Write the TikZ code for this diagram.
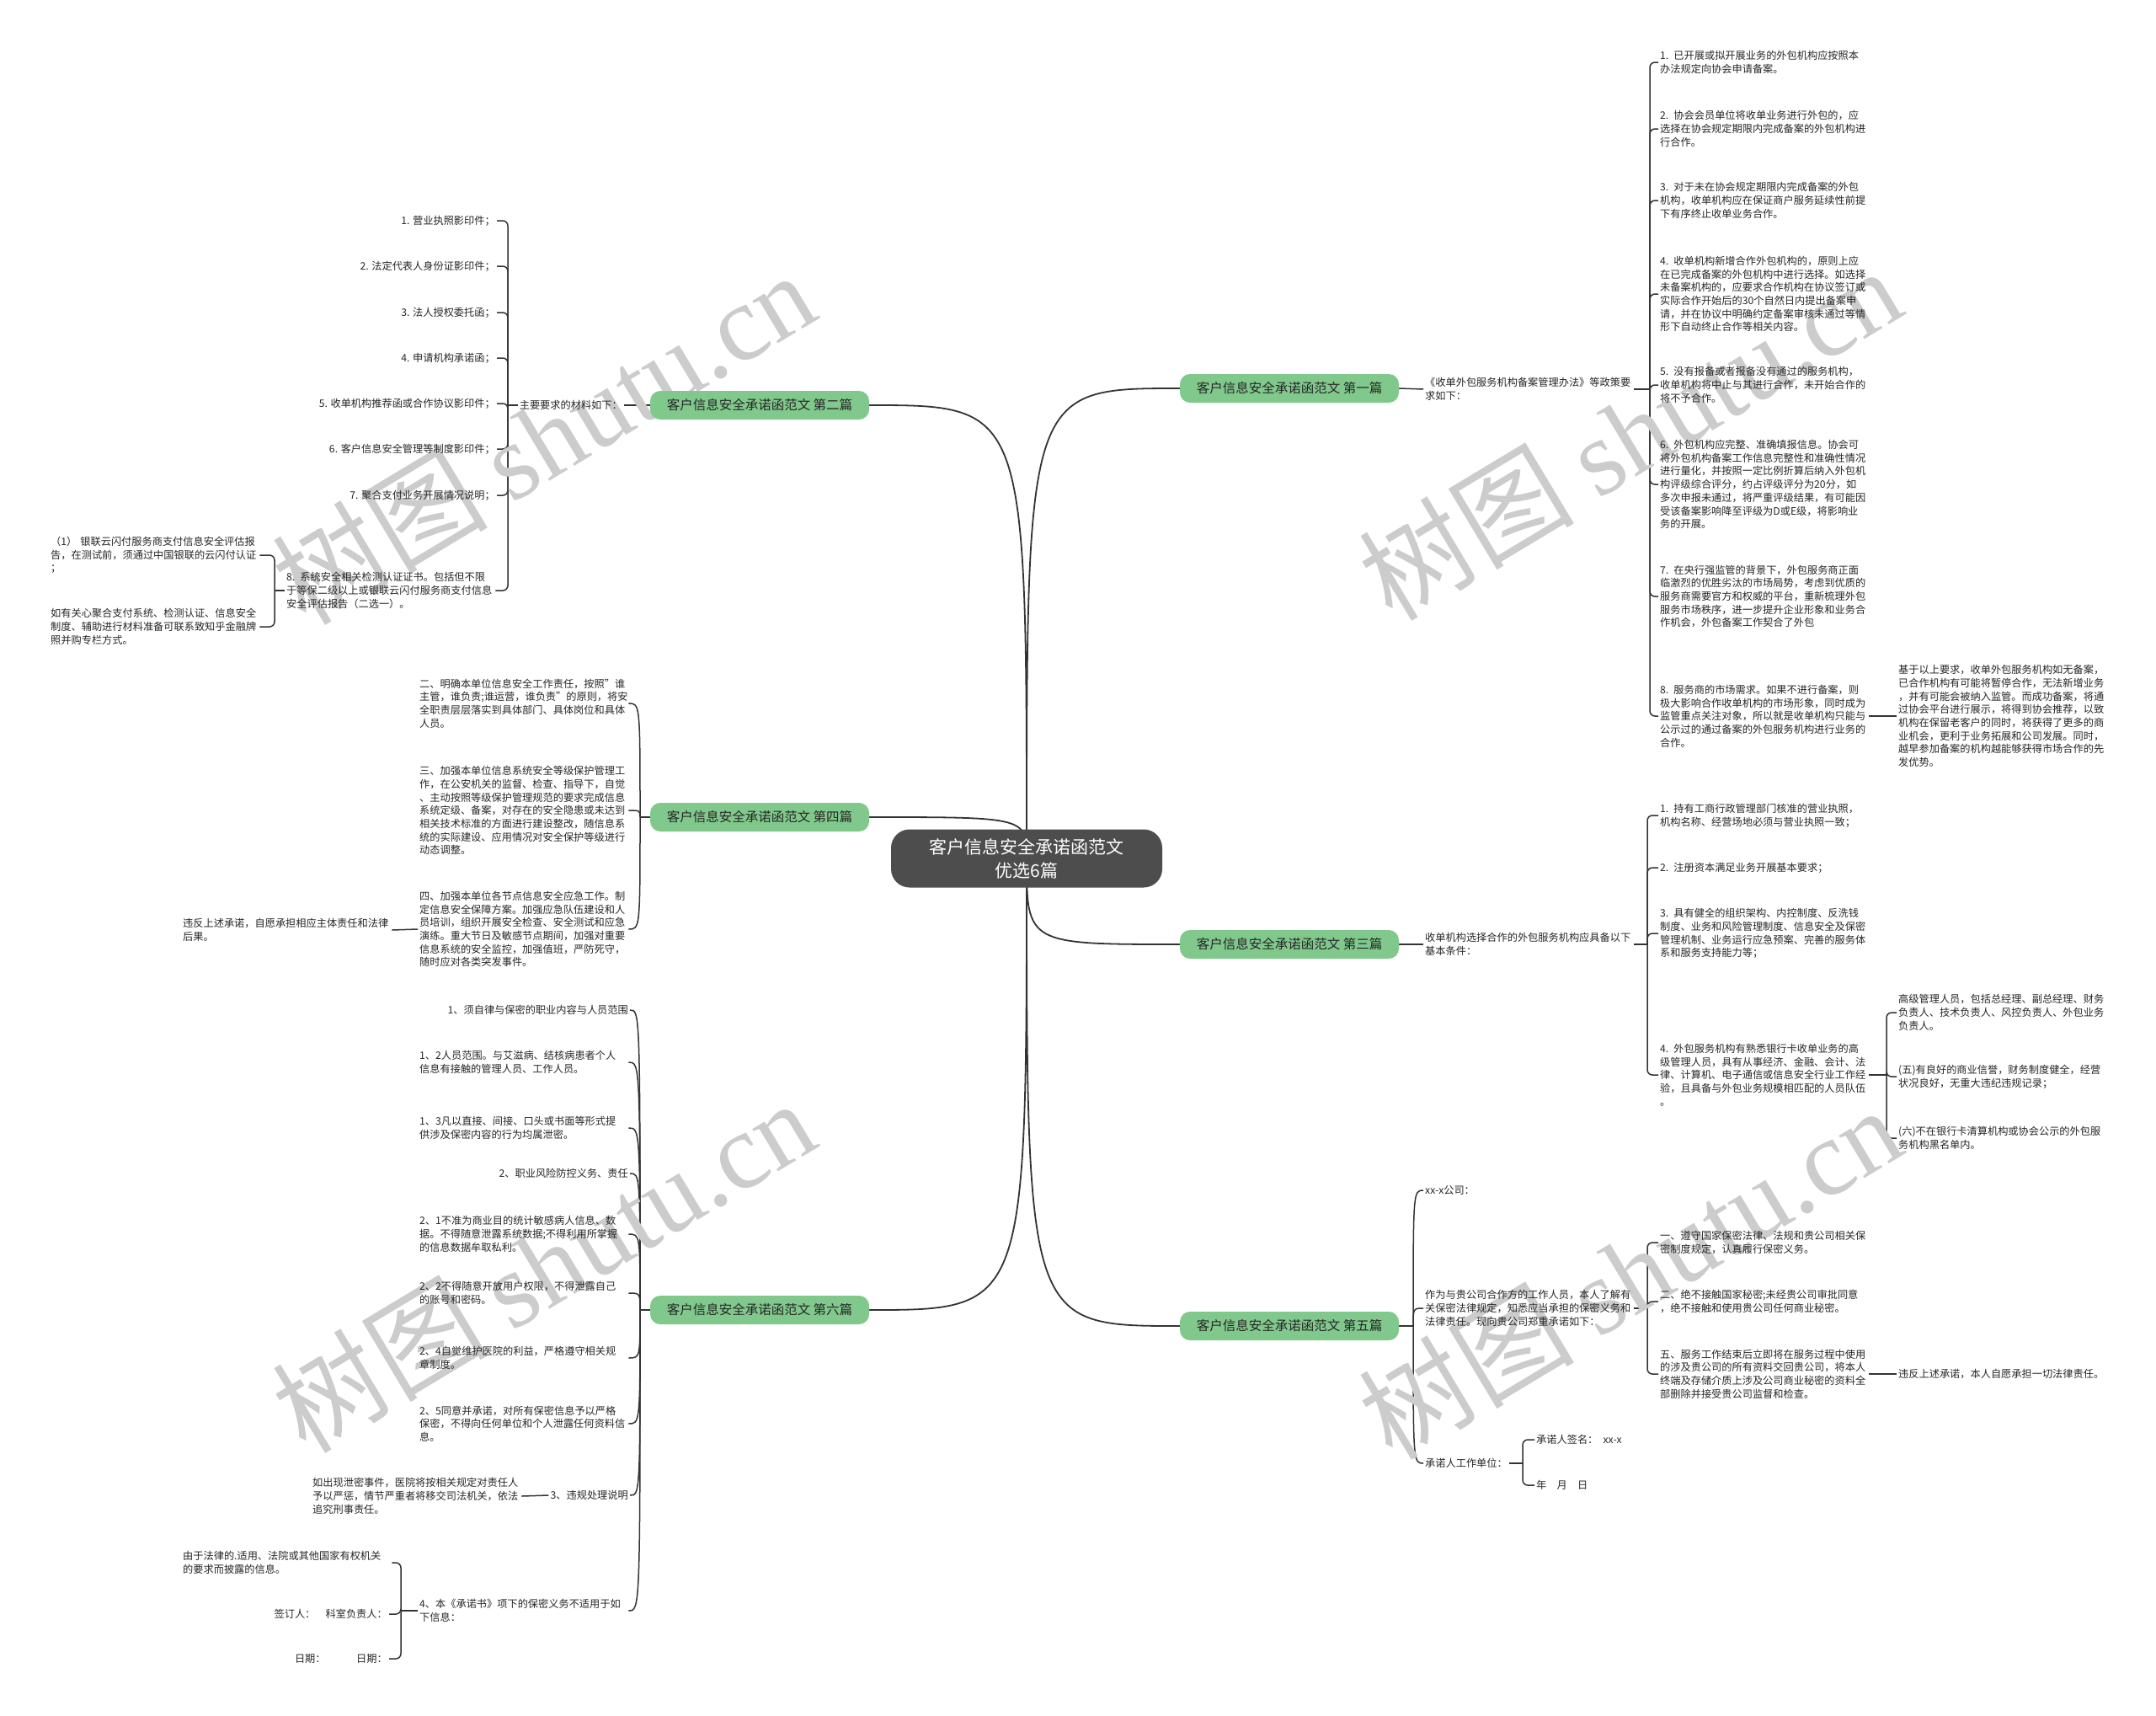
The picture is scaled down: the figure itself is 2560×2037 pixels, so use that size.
\documentclass[tikz,border=0pt]{standalone}
\usepackage{fontspec}
\setmainfont{Noto Sans CJK SC}
\newfontfamily\wmfont{Liberation Serif}
\usetikzlibrary{backgrounds}
\definecolor{topicgreen}{RGB}{128,200,140}
\definecolor{hubgray}{RGB}{77,77,77}
\definecolor{linkgray}{RGB}{51,51,51}
\tikzset{
	hub/.style={fill=hubgray, text=white, rounded corners=22pt, align=center, minimum width=322pt, minimum height=69pt, font=\fontsize{21}{28}\selectfont},
	topic/.style={fill=topicgreen, text=black!85, rounded corners=12pt, minimum width=260pt, minimum height=34pt, font=\fontsize{15.5}{18}\selectfont},
	leaf/.style={align=left, text width=246pt, inner sep=2pt, text=black!85, font=\fontsize{12.2}{15.7}\selectfont},
	tag/.style={inner sep=2pt, text=black!85, font=\fontsize{12.2}{15.7}\selectfont},
	link/.style={draw=linkgray, line width=1.5pt},
	trunk/.style={draw=linkgray, line width=1.8pt},
	brace/.style={link, rounded corners=6pt},
	wmark/.style={rotate=31, text=black!20, font=\fontsize{128}{130}\selectfont}
}
\begin{document}
\begin{tikzpicture}[x=1pt, y=-1pt]
	\useasboundingbox (0,0) rectangle (2560,2037);
	% watermarks
	\node[wmark] (wmA) at (645,519) {树图\ {\wmfont shutu.cn}};
	\node[wmark] (wmB) at (1935,514) {树图\ {\wmfont shutu.cn}};
	\node[wmark] (wmC) at (645,1502) {树图\ {\wmfont shutu.cn}};
	\node[wmark] (wmD) at (1935,1510) {树图\ {\wmfont shutu.cn}};
	% root and topics
	\node[hub] (root) at (1219,1019) {客户信息安全承诺函范文\\优选6篇};
	\node[topic] (second) at (902,481) {客户信息安全承诺函范文 第二篇};
	\node[topic] (fourth) at (902,970) {客户信息安全承诺函范文 第四篇};
	\node[topic] (sixth) at (902,1555) {客户信息安全承诺函范文 第六篇};
	\node[topic] (first) at (1531,461) {客户信息安全承诺函范文 第一篇};
	\node[topic] (third) at (1531,1121) {客户信息安全承诺函范文 第三篇};
	\node[topic] (fifth) at (1531,1574) {客户信息安全承诺函范文 第五篇};
	% first
	\node[leaf, anchor=west] (policy) at (1690,462) {《收单外包服务机构备案管理办法》等政策要\\求如下：};
	\coordinate (pj) at (1959,462);
	\node[leaf, anchor=west] (filing1) at (1969,74) {1. 已开展或拟开展业务的外包机构应按照本\\办法规定向协会申请备案。};
	\node[leaf, anchor=west] (filing2) at (1969,153) {2. 协会会员单位将收单业务进行外包的，应\\选择在协会规定期限内完成备案的外包机构进\\行合作。};
	\node[leaf, anchor=west] (filing3) at (1969,238) {3. 对于未在协会规定期限内完成备案的外包\\机构，收单机构应在保证商户服务延续性前提\\下有序终止收单业务合作。};
	\node[leaf, anchor=west] (filing4) at (1969,349) {4. 收单机构新增合作外包机构的，原则上应\\在已完成备案的外包机构中进行选择。如选择\\未备案机构的，应要求合作机构在协议签订或\\实际合作开始后的30个自然日内提出备案申\\请，并在协议中明确约定备案审核未通过等情\\形下自动终止合作等相关内容。};
	\node[leaf, anchor=west] (filing5) at (1969,457) {5. 没有报备或者报备没有通过的服务机构，\\收单机构将中止与其进行合作，未开始合作的\\将不予合作。};
	\node[leaf, anchor=west] (filing6) at (1969,575) {6. 外包机构应完整、准确填报信息。协会可\\将外包机构备案工作信息完整性和准确性情况\\进行量化，并按照一定比例折算后纳入外包机\\构评级综合评分，约占评级评分为20分，如\\多次申报未通过，将严重评级结果，有可能因\\受该备案影响降至评级为D或E级，将影响业\\务的开展。};
	\node[leaf, anchor=west] (filing7) at (1969,708) {7. 在央行强监管的背景下，外包服务商正面\\临激烈的优胜劣汰的市场局势，考虑到优质的\\服务商需要官方和权威的平台，重新梳理外包\\服务市场秩序，进一步提升企业形象和业务合\\作机会，外包备案工作契合了外包};
	\node[leaf, anchor=west] (filing8) at (1969,850) {8. 服务商的市场需求。如果不进行备案，则\\极大影响合作收单机构的市场形象，同时成为\\监管重点关注对象，所以就是收单机构只能与\\公示过的通过备案的外包服务机构进行业务的\\合作。};
	\node[leaf, anchor=west] (benefit) at (2252,850) {基于以上要求，收单外包服务机构如无备案，\\已合作机构有可能将暂停合作，无法新增业务\\，并有可能会被纳入监管。而成功备案，将通\\过协会平台进行展示，将得到协会推荐，以致\\机构在保留老客户的同时，将获得了更多的商\\业机会，更利于业务拓展和公司发展。同时，\\越早参加备案的机构越能够获得市场合作的先\\发优势。};
	% third
	\node[leaf, anchor=west] (criteria) at (1690,1121) {收单机构选择合作的外包服务机构应具备以下\\基本条件：};
	\coordinate (cj) at (1956,1121);
	\node[leaf, anchor=west] (cond1) at (1969,968) {1. 持有工商行政管理部门核准的营业执照，\\机构名称、经营场地必须与营业执照一致；};
	\node[leaf, anchor=west] (cond2) at (1969,1030) {2. 注册资本满足业务开展基本要求；};
	\node[leaf, anchor=west] (cond3) at (1969,1108) {3. 具有健全的组织架构、内控制度、反洗钱\\制度、业务和风险管理制度、信息安全及保密\\管理机制、业务运行应急预案、完善的服务体\\系和服务支持能力等；};
	\node[leaf, anchor=west] (cond4) at (1969,1276) {4. 外包服务机构有熟悉银行卡收单业务的高\\级管理人员，具有从事经济、金融、会计、法\\律、计算机、电子通信或信息安全行业工作经\\验，且具备与外包业务规模相匹配的人员队伍\\。};
	\coordinate (sj) at (2240,1276);
	\node[leaf, anchor=west] (staff) at (2252,1202) {高级管理人员，包括总经理、副总经理、财务\\负责人、技术负责人、风控负责人、外包业务\\负责人。};
	\node[leaf, anchor=west] (credit) at (2252,1278) {(五)有良好的商业信誉，财务制度健全，经营\\状况良好，无重大违纪违规记录；};
	\node[leaf, anchor=west] (blacklist) at (2252,1351) {(六)不在银行卡清算机构或协会公示的外包服\\务机构黑名单内。};
	% fifth
	\coordinate (fj) at (1678,1574);
	\node[tag, anchor=west] (company) at (1690,1413) {xx-x公司：};
	\node[leaf, anchor=west] (pledge) at (1690,1553) {作为与贵公司合作方的工作人员，本人了解有\\关保密法律规定，知悉应当承担的保密义务和\\法律责任。现向贵公司郑重承诺如下：};
	\node[tag, anchor=west] (unit) at (1690,1737) {承诺人工作单位：};
	\coordinate (kj) at (1956,1553);
	\node[leaf, anchor=west] (keep1) at (1969,1475) {一、遵守国家保密法律、法规和贵公司相关保\\密制度规定，认真履行保密义务。};
	\node[leaf, anchor=west] (keep2) at (1969,1545) {二、绝不接触国家秘密;未经贵公司审批同意\\，绝不接触和使用贵公司任何商业秘密。};
	\node[leaf, anchor=west] (keep5) at (1969,1631) {五、服务工作结束后立即将在服务过程中使用\\的涉及贵公司的所有资料交回贵公司，将本人\\终端及存储介质上涉及公司商业秘密的资料全\\部删除并接受贵公司监督和检查。};
	\node[tag, anchor=west] (breach) at (2252,1631) {违反上述承诺，本人自愿承担一切法律责任。};
	\coordinate (uj) at (1808,1737);
	\node[tag, anchor=west] (signer) at (1822,1709) {承诺人签名：\enspace xx-x};
	\node[tag, anchor=west] (date) at (1822,1763) {年\quad 月\quad 日};
	% second
	\node[tag, anchor=east] (materials) at (741,481) {主要要求的材料如下：};
	\coordinate (mj) at (603,481);
	\node[tag, anchor=east] (mat1) at (590,262) {1. 营业执照影印件；};
	\node[tag, anchor=east] (mat2) at (590,316) {2. 法定代表人身份证影印件；};
	\node[tag, anchor=east] (mat3) at (590,371) {3. 法人授权委托函；};
	\node[tag, anchor=east] (mat4) at (590,425) {4. 申请机构承诺函；};
	\node[tag, anchor=east] (mat5) at (590,479) {5. 收单机构推荐函或合作协议影印件；};
	\node[tag, anchor=east] (mat6) at (590,533) {6. 客户信息安全管理等制度影印件；};
	\node[tag, anchor=east] (mat7) at (590,588) {7. 聚合支付业务开展情况说明；};
	\node[leaf, anchor=west] (mat8) at (338,701) {8. 系统安全相关检测认证证书。包括但不限\\于等保二级以上或银联云闪付服务商支付信息\\安全评估报告（二选一）。};
	\coordinate (bj) at (326,701);
	\node[leaf, anchor=west] (unionpay) at (58,659) {（1） 银联云闪付服务商支付信息安全评估报\\告，在测试前，须通过中国银联的云闪付认证\\；};
	\node[leaf, anchor=west] (contact) at (58,744) {如有关心聚合支付系统、检测认证、信息安全\\制度、辅助进行材料准备可联系致知乎金融牌\\照并购专栏方式。};
	% fourth
	\coordinate (dj) at (760,970);
	\node[leaf, anchor=west] (duty2) at (496,835) {二、明确本单位信息安全工作责任，按照"谁\\主管，谁负责;谁运营，谁负责"的原则，将安\\全职责层层落实到具体部门、具体岗位和具体\\人员。};
	\node[leaf, anchor=west] (duty3) at (496,962) {三、加强本单位信息系统安全等级保护管理工\\作，在公安机关的监督、检查、指导下，自觉\\、主动按照等级保护管理规范的要求完成信息\\系统定级、备案，对存在的安全隐患或未达到\\相关技术标准的方面进行建设整改，随信息系\\统的实际建设、应用情况对安全保护等级进行\\动态调整。};
	\node[leaf, anchor=west] (duty4) at (496,1103) {四、加强本单位各节点信息安全应急工作。制\\定信息安全保障方案。加强应急队伍建设和人\\员培训，组织开展安全检查、安全测试和应急\\演练。重大节日及敏感节点期间，加强对重要\\信息系统的安全监控，加强值班，严防死守，\\随时应对各类突发事件。};
	\node[leaf, anchor=west] (liability) at (215,1104) {违反上述承诺，自愿承担相应主体责任和法律\\后果。};
	% sixth
	\coordinate (xj) at (760,1555);
	\node[tag, anchor=east] (scope) at (748,1199) {1、须自律与保密的职业内容与人员范围};
	\node[leaf, anchor=west] (scope2) at (496,1261) {1、2人员范围。与艾滋病、结核病患者个人\\信息有接触的管理人员、工作人员。};
	\node[leaf, anchor=west] (scope3) at (496,1339) {1、3凡以直接、间接、口头或书面等形式提\\供涉及保密内容的行为均属泄密。};
	\node[tag, anchor=east] (risk) at (748,1393) {2、职业风险防控义务、责任};
	\node[leaf, anchor=west] (risk1) at (496,1465) {2、1不准为商业目的统计敏感病人信息、数\\据。不得随意泄露系统数据;不得利用所掌握\\的信息数据牟取私利。};
	\node[leaf, anchor=west] (risk2) at (496,1535) {2、2不得随意开放用户权限，不得泄露自己\\的账号和密码。};
	\node[leaf, anchor=west] (risk4) at (496,1612) {2、4自觉维护医院的利益，严格遵守相关规\\章制度。};
	\node[leaf, anchor=west] (risk5) at (496,1690) {2、5同意并承诺，对所有保密信息予以严格\\保密，不得向任何单位和个人泄露任何资料信\\息。};
	\node[tag, anchor=east] (penalty) at (748,1775) {3、违规处理说明};
	\node[leaf, anchor=west] (leak) at (369,1776) {如出现泄密事件，医院将按相关规定对责任人\\予以严惩，情节严重者将移交司法机关，依法\\追究刑事责任。};
	\node[leaf, anchor=west] (exempt) at (496,1912) {4、本《承诺书》项下的保密义务不适用于如\\下信息：};
	\coordinate (ej) at (476,1912);
	\node[leaf, anchor=west] (lawinfo) at (215,1855) {由于法律的.适用、法院或其他国家有权机关\\的要求而披露的信息。};
	\node[tag, anchor=east] (signoff) at (462,1916) {签订人：\quad 科室负责人：};
	\node[tag, anchor=east] (dates) at (462,1969) {日期：\qquad\quad 日期：};
	% connectors
	\begin{scope}[on background layer]
		\fill[white] (0,0) rectangle (2560,2037);
		\draw[trunk] (root.center) .. controls (root.center |- first.west) .. (first.west);
		\draw[trunk] (root.center) .. controls (root.center |- third.west) .. (third.west);
		\draw[trunk] (root.center) .. controls (root.center |- fifth.west) .. (fifth.west);
		\draw[trunk] (root.center) .. controls (root.center |- second.east) .. (second.east);
		\draw[trunk] (root.center) .. controls (root.center |- fourth.east) .. (fourth.east);
		\draw[trunk] (root.center) .. controls (root.center |- sixth.east) .. (sixth.east);
		% first
		\draw[link] (first.east) -- (policy.west);
		\draw[link] (policy.east) -- (pj);
		\draw[brace] (pj) |- (filing1.west);
		\draw[brace] (pj) |- (filing2.west);
		\draw[brace] (pj) |- (filing3.west);
		\draw[brace] (pj) |- (filing4.west);
		\draw[brace] (pj) |- (filing5.west);
		\draw[brace] (pj) |- (filing6.west);
		\draw[brace] (pj) |- (filing7.west);
		\draw[brace] (pj) |- (filing8.west);
		\draw[link] (filing8.east) -- (benefit.west);
		% third
		\draw[link] (third.east) -- (criteria.west);
		\draw[link] (criteria.east) -- (cj);
		\draw[brace] (cj) |- (cond1.west);
		\draw[brace] (cj) |- (cond2.west);
		\draw[brace] (cj) |- (cond3.west);
		\draw[brace] (cj) |- (cond4.west);
		\draw[link] (cond4.east) -- (sj);
		\draw[brace] (sj) |- (staff.west);
		\draw[brace] (sj) |- (credit.west);
		\draw[brace] (sj) |- (blacklist.west);
		% fifth
		\draw[link] (fifth.east) -- (fj);
		\draw[link] (fj) .. controls (fj |- company.west) .. (company.west);
		\draw[link] (fj) .. controls (fj |- pledge.west) .. (pledge.west);
		\draw[link] (fj) .. controls (fj |- unit.west) .. (unit.west);
		\draw[link] (pledge.east) -- (kj);
		\draw[brace] (kj) |- (keep1.west);
		\draw[brace] (kj) |- (keep2.west);
		\draw[brace] (kj) |- (keep5.west);
		\draw[link] (keep5.east) -- (breach.west);
		\draw[link] (unit.east) -- (uj);
		\draw[brace] (uj) |- (signer.west);
		\draw[brace] (uj) |- (date.west);
		% second
		\draw[link] (second.west) -- (materials.east);
		\draw[link] (materials.west) -- (mj);
		\draw[brace] (mj) |- (mat1.east);
		\draw[brace] (mj) |- (mat2.east);
		\draw[brace] (mj) |- (mat3.east);
		\draw[brace] (mj) |- (mat4.east);
		\draw[brace] (mj) |- (mat5.east);
		\draw[brace] (mj) |- (mat6.east);
		\draw[brace] (mj) |- (mat7.east);
		\draw[brace] (mj) |- (mat8.east);
		\draw[link] (mat8.west) -- (bj);
		\draw[brace] (bj) |- (unionpay.east);
		\draw[brace] (bj) |- (contact.east);
		% fourth
		\draw[link] (fourth.west) -- (dj);
		\draw[link] (dj) .. controls (dj |- duty2.east) .. (duty2.east);
		\draw[link] (dj) .. controls (dj |- duty3.east) .. (duty3.east);
		\draw[link] (dj) .. controls (dj |- duty4.east) .. (duty4.east);
		\draw[link] (duty4.west) -- (liability.east);
		% sixth
		\draw[link] (sixth.west) -- (xj);
		\draw[link] (xj) .. controls (xj |- scope.east) .. (scope.east);
		\draw[link] (xj) .. controls (xj |- scope2.east) .. (scope2.east);
		\draw[link] (xj) .. controls (xj |- scope3.east) .. (scope3.east);
		\draw[link] (xj) .. controls (xj |- risk.east) .. (risk.east);
		\draw[link] (xj) .. controls (xj |- risk1.east) .. (risk1.east);
		\draw[link] (xj) .. controls (xj |- risk2.east) .. (risk2.east);
		\draw[link] (xj) .. controls (xj |- risk4.east) .. (risk4.east);
		\draw[link] (xj) .. controls (xj |- risk5.east) .. (risk5.east);
		\draw[link] (xj) .. controls (xj |- penalty.east) .. (penalty.east);
		\draw[link] (xj) .. controls (xj |- exempt.east) .. (exempt.east);
		\draw[link] (penalty.west) -- (leak.east);
		\draw[link] (exempt.west) -- (ej);
		\draw[brace] (ej) |- (lawinfo.east);
		\draw[brace] (ej) |- (signoff.east);
		\draw[brace] (ej) |- (dates.east);
	\end{scope}
\end{tikzpicture}
\end{document}
